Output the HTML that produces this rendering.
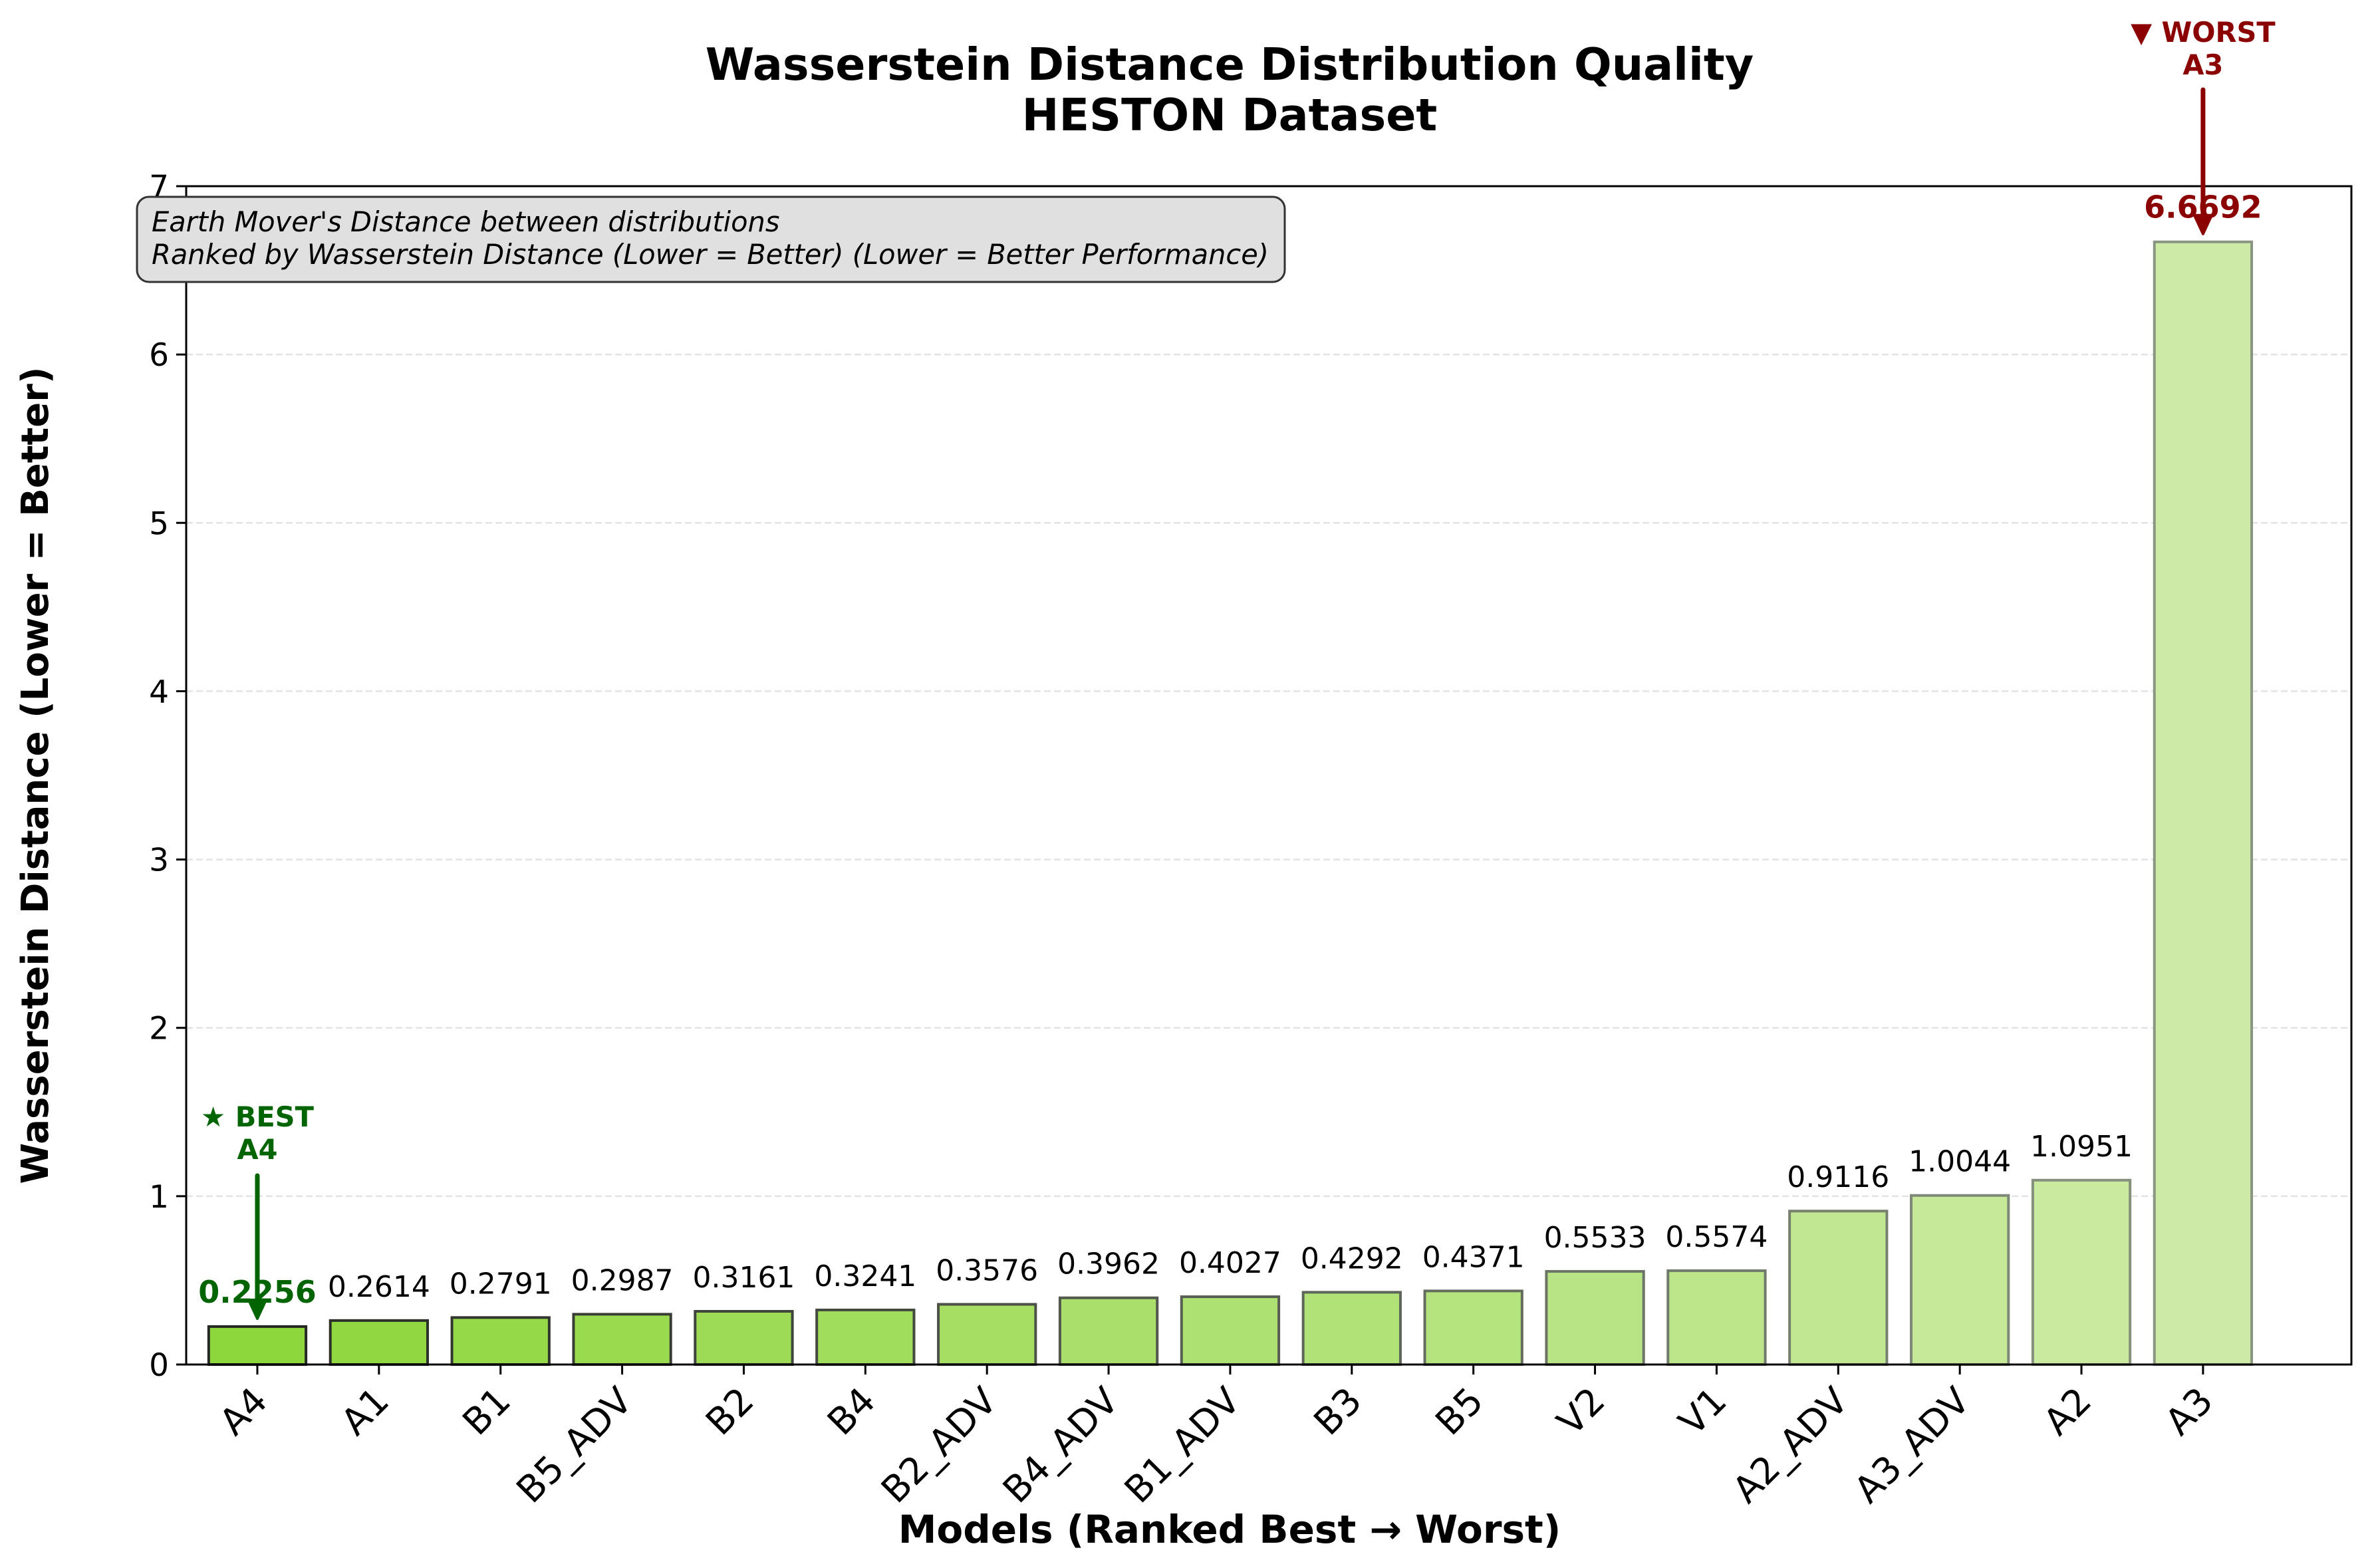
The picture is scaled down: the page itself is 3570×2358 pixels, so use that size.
<!DOCTYPE html>
<html><head><meta charset="utf-8"><style>
html,body{margin:0;padding:0;background:#fff;}
svg{display:block;font-family:"DejaVu Sans","Liberation Sans",sans-serif;}
</style></head><body>
<svg id="chart" width="3570" height="2358" viewBox="0 0 3570 2358" xmlns="http://www.w3.org/2000/svg">
<rect x="0" y="0" width="3570" height="2358" fill="#fff"/>
<text x="1849" y="120" font-size="66.7" font-weight="bold" text-anchor="middle">Wasserstein Distance Distribution Quality</text>
<text x="1849" y="196" font-size="66.7" font-weight="bold" text-anchor="middle">HESTON Dataset</text>
<g id="grid"></g>
<g id="bars"></g>
<g id="labels"></g>
<g id="axes"></g>
<text x="1849" y="2320" font-size="58" font-weight="bold" text-anchor="middle">Models (Ranked Best → Worst)</text>
<text transform="translate(72,1166) rotate(-90)" font-size="56" font-weight="bold" text-anchor="middle">Wasserstein Distance (Lower = Better)</text>
<g>
<rect x="206" y="296" width="1726" height="128" rx="18" fill="#e0e0e0" stroke="#333" stroke-width="3"/>
<text x="228" y="348" font-size="41.5" font-style="italic">Earth Mover's Distance between distributions</text>
<text x="228" y="397" font-size="41.5" font-style="italic">Ranked by Wasserstein Distance (Lower = Better) (Lower = Better Performance)</text>
</g>
<g id="annot"></g>
</svg>
<script>
const categories = ["A4","A1","B1","B5_ADV","B2","B4","B2_ADV","B4_ADV","B1_ADV","B3","B5","V2","V1","A2_ADV","A3_ADV","A2","A3"];
const values = [0.2256,0.2614,0.2791,0.2987,0.3161,0.3241,0.3576,0.3962,0.4027,0.4292,0.4371,0.5533,0.5574,0.9116,1.0044,1.0951,6.6692];
const valueLabels = ["0.2256","0.2614","0.2791","0.2987","0.3161","0.3241","0.3576","0.3962","0.4027","0.4292","0.4371","0.5533","0.5574","0.9116","1.0044","1.0951","6.6692"];
const yTicks = [0,1,2,3,4,5,6,7];

const NS = "http://www.w3.org/2000/svg";
const L = 280, R = 3536, T = 280, B = 2052;
const yMin = 0, yMax = 7;
const xMin = -0.585, xMax = 17.22;
function xs(i){ return L + (i - xMin) / (xMax - xMin) * (R - L); }
function ys(v){ return B - (v - yMin) / (yMax - yMin) * (B - T); }
function mk(tag, attrs, parent){ const e = document.createElementNS(NS, tag); for (const k in attrs) e.setAttribute(k, attrs[k]); parent.appendChild(e); return e; }
function lerp(a,b,t){ return Math.round(a + (b-a)*t); }
function rgb(c){ return "rgb(" + c.join(",") + ")"; }

const grid = document.getElementById("grid");
const bars = document.getElementById("bars");
const labels = document.getElementById("labels");
const axes = document.getElementById("axes");
const annot = document.getElementById("annot");

yTicks.forEach(v => {
  if (v > yMin && v < yMax) {
    const g = mk("line", {x1:L, x2:R, y1:ys(v), y2:ys(v), stroke:"#e3e3e3", "stroke-width":2.5, "stroke-dasharray":"10,5"}, grid);
    
    
  }
  const t = mk("line", {x1:L-15, x2:L, y1:ys(v), y2:ys(v), stroke:"#000", "stroke-width":3}, axes);
  
  
  const tl = mk("text", {x:L-26, y:ys(v)+17, "font-size":47, "text-anchor":"end"}, axes);
  tl.textContent = String(v);
  
  
});

const n = categories.length;
const bw = 0.8 * (xs(1) - xs(0));
categories.forEach((c, i) => {
  const t = n > 1 ? i / (n - 1) : 0;
  const fill = [lerp(141,205,t), lerp(214,235,t), lerp(59,166,t)];
  const edge = [lerp(38,138,t), lerp(40,150,t), lerp(36,130,t)];
  const cx = xs(i), top = ys(values[i]);
  const r = mk("rect", {x:cx-bw/2, y:top, width:bw, height:B-top, fill:rgb(fill), stroke:rgb(edge), "stroke-width":4}, bars);
  
  
  const first = i === 0, last = i === n - 1;
  const vl = mk("text", {x:cx, y:top-36, "font-size": (first||last) ? 46 : 44, "text-anchor":"middle", fill: first ? "#006400" : (last ? "#8b0000" : "#000"), "font-weight": (first||last) ? "bold" : "normal"}, labels);
  vl.textContent = valueLabels[i];
  
  
  const tk = mk("line", {x1:cx, x2:cx, y1:B, y2:B+15, stroke:"#000", "stroke-width":3}, axes);
  
  
  const xl = mk("text", {transform:"translate(" + (cx+18) + "," + (B+58) + ") rotate(-45)", "font-size":55, "text-anchor":"end"}, axes);
  xl.textContent = c;
  
  
});

const frame = mk("rect", {x:L, y:T, width:R-L, height:B-T, fill:"none", stroke:"#000", "stroke-width":3}, axes);



function arrow(cx, y1, y2, color, name){
  const g = mk("g", {}, annot);
  
  
  mk("line", {x1:cx, x2:cx, y1:y1, y2:y2-20, stroke:color, "stroke-width":7, "stroke-linecap":"round"}, g);
  mk("path", {d:"M"+(cx-13)+","+(y2-28)+" L"+(cx+13)+","+(y2-28)+" L"+cx+","+y2+" Z", fill:color, stroke:color, "stroke-width":4, "stroke-linejoin":"round"}, g);
}
const bx = xs(0);
const b1 = mk("text", {x:bx, y:1694, "font-size":41.5, "font-weight":"bold", "text-anchor":"middle", fill:"#006400"}, annot);
b1.textContent = "★ BEST";


const b2 = mk("text", {x:bx, y:1743, "font-size":41.5, "font-weight":"bold", "text-anchor":"middle", fill:"#006400"}, annot);
b2.textContent = categories[0];


arrow(bx, 1768, ys(values[0]) - 12, "#006400", "best-arrow");
const wx = xs(n-1);
const w1 = mk("text", {x:wx, y:63, "font-size":41.5, "font-weight":"bold", "text-anchor":"middle", fill:"#8b0000"}, annot);
w1.textContent = "▼ WORST";


const w2 = mk("text", {x:wx, y:112, "font-size":41.5, "font-weight":"bold", "text-anchor":"middle", fill:"#8b0000"}, annot);
w2.textContent = categories[n-1];


arrow(wx, 135, ys(values[n-1]) - 12, "#8b0000", "worst-arrow");
</script>
</body></html>
